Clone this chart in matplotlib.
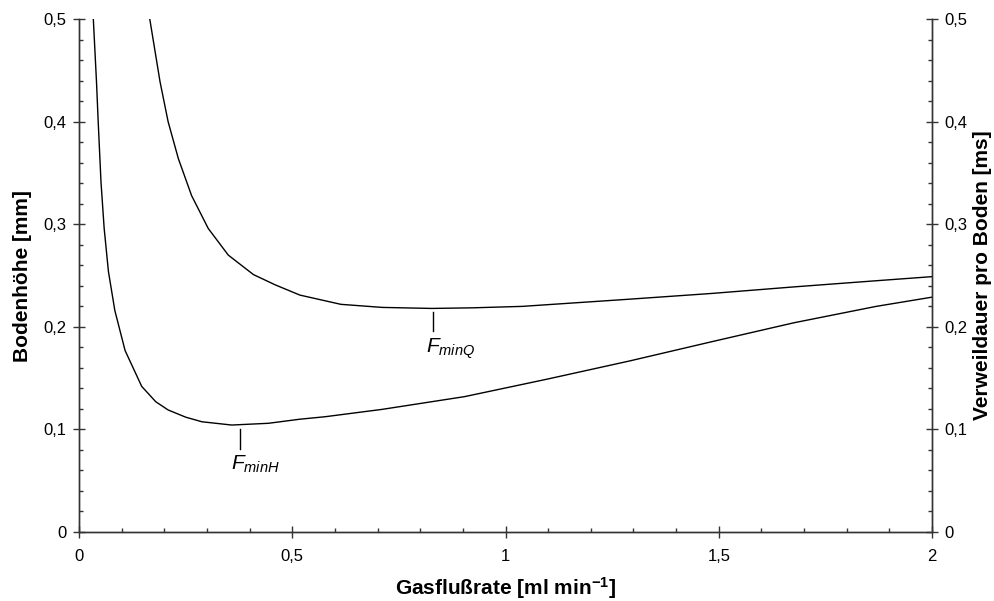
import matplotlib.pyplot as plt
from matplotlib.ticker import MultipleLocator, FuncFormatter

# Bodenhöhe (untere Kurve, linke Achse)
flow_h = [0.0336, 0.041, 0.045, 0.0516, 0.059, 0.069, 0.084, 0.108, 0.147, 0.18,
          0.209, 0.25, 0.288, 0.358, 0.444, 0.518, 0.577, 0.711, 0.904, 1.097,
          1.29, 1.483, 1.676, 1.869, 2.0]
height = [0.5, 0.439, 0.400, 0.341, 0.296, 0.254, 0.216, 0.177, 0.142, 0.127,
          0.119, 0.112, 0.1075, 0.1043, 0.106, 0.110, 0.1124, 0.1196, 0.132, 0.149,
          0.1667, 0.1855, 0.204, 0.220, 0.229]

# Verweildauer pro Boden (obere Kurve, rechte Achse)
flow_q = [0.166, 0.190, 0.209, 0.233, 0.264, 0.303, 0.350, 0.409, 0.46, 0.518,
          0.614, 0.711, 0.827, 0.923, 1.039, 1.29, 1.483, 1.676, 1.869, 2.0]
dwell = [0.5, 0.439, 0.400, 0.364, 0.328, 0.296, 0.270, 0.251, 0.241, 0.231,
         0.222, 0.219, 0.218, 0.2186, 0.220, 0.227, 0.2326, 0.239, 0.245, 0.249]

# Markierungen der Minima
min_h = 0.377
min_q = 0.829

plt.rcParams['font.family'] = ['Liberation Sans', 'DejaVu Sans']
plt.rcParams['mathtext.fontset'] = 'custom'
plt.rcParams['mathtext.rm'] = 'Liberation Sans'
plt.rcParams['mathtext.it'] = 'Liberation Sans:italic'
plt.rcParams['mathtext.bf'] = 'Liberation Sans:bold'


def comma(v, pos):
    return ('%g' % round(v, 3)).replace('.', ',')


fig = plt.figure(figsize=(9.95, 6.01), dpi=100)
ax = fig.add_axes([0.0794, 0.1148, 0.8573, 0.8532])
ax2 = ax.twinx()

ax.plot(flow_h, height, color='black', lw=1.0)
ax2.plot(flow_q, dwell, color='black', lw=1.0)

for a in (ax, ax2):
    a.set_xlim(0, 2)
    a.set_ylim(0, 0.5)
    a.spines['top'].set_visible(False)
    for s in a.spines.values():
        s.set_color('#333333')
        s.set_linewidth(1.0)
    a.yaxis.set_major_locator(MultipleLocator(0.1))
    a.yaxis.set_minor_locator(MultipleLocator(0.02))
    a.yaxis.set_major_formatter(FuncFormatter(comma))
    a.tick_params(axis='y', which='major', direction='inout', length=8, width=1,
                  labelsize=12, pad=5, color='#333333')
    a.tick_params(axis='y', which='minor', direction='in', length=3, width=1,
                  color='#333333')

ax.xaxis.set_major_locator(MultipleLocator(0.5))
ax.xaxis.set_minor_locator(MultipleLocator(0.1))
ax.xaxis.set_major_formatter(FuncFormatter(comma))
ax.tick_params(axis='x', which='major', direction='inout', length=8, width=1,
               labelsize=12, pad=8, color='#333333')
ax.tick_params(axis='x', which='minor', direction='in', length=3, width=1,
               color='#333333')

ax.set_xlabel(r'Gasflußrate [ml min$^{\mathbf{-1}}$]', fontsize=15,
              fontweight='bold', labelpad=8)
ax.set_ylabel('Bodenhöhe [mm]', fontsize=15, fontweight='bold', labelpad=8)
ax2.set_ylabel('Verweildauer pro Boden [ms]', fontsize=15, fontweight='bold',
               labelpad=4)

ax.plot([min_h, min_h], [0.081, 0.1005], color='black', lw=1.0)
ax.text(min_h - 0.02, 0.066, r'$F_{minH}$', fontsize=15, ha='left', va='center')
ax.plot([min_q, min_q], [0.196, 0.2147], color='black', lw=1.0)
ax.text(min_q - 0.015, 0.179, r'$F_{minQ}$', fontsize=15, ha='left', va='center')

fig.savefig('out.png', dpi=100)
